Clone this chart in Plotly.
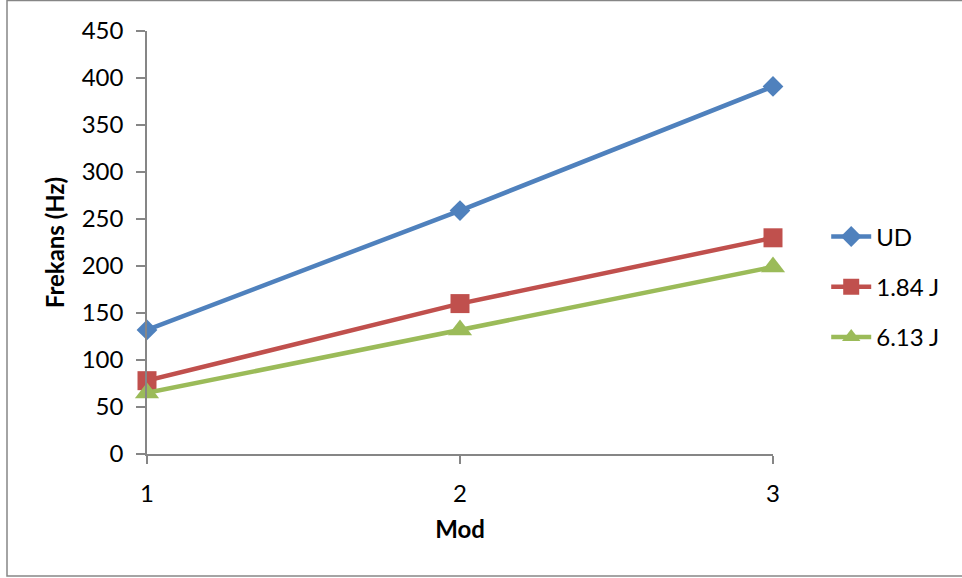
import plotly.graph_objects as go

# Mode numbers on the x axis and measured frequencies per condition
modes = [1, 2, 3]
series_names = ["UD", "1.84 J", "6.13 J"]
freq_ud = [132, 259, 391]
freq_184 = [78, 160, 230]
freq_613 = [65, 132, 199]
y_ticks = [0, 50, 100, 150, 200, 250, 300, 350, 400, 450]

colors = ["#4F81BD", "#C0504D", "#9BBB59"]
symbols = ["diamond", "square", "triangle-up"]
sizes = [16, 19, 21]
font_family = "Lato, 'Open Sans', sans-serif"
axis_gray = "#868686"
fs = 24

fig = go.Figure()
for name, vals, col, sym, sz in zip(series_names, [freq_ud, freq_184, freq_613], colors, symbols, sizes):
    fig.add_trace(go.Scatter(
        x=modes, y=vals, name=name, mode="lines+markers",
        line=dict(color=col, width=4.5),
        marker=dict(symbol=sym, size=sz, color=col, line=dict(width=0)),
        legendgroup=name,
        cliponaxis=False,
    ))

fig.update_layout(
    width=962, height=578,
    margin=dict(l=147, r=189, t=31, b=124),
    paper_bgcolor="white", plot_bgcolor="white",
    font=dict(family=font_family, size=fs, color="black"),
    showlegend=True,
    legend=dict(
        x=1.085, y=0.395, xanchor="left", yanchor="middle",
        font=dict(size=fs, family=font_family),
        tracegroupgap=16, itemwidth=40,
        bgcolor="rgba(0,0,0,0)",
    ),
    shapes=[dict(
        type="rect", xref="paper", yref="paper",
        x0=(7 - 147) / 626, x1=(975 - 147) / 626,
        y0=(454 - 576) / 423, y1=(454 - 0.5) / 423,
        line=dict(color=axis_gray, width=1.5), fillcolor="rgba(0,0,0,0)",
        layer="below",
    )],
)

fig.update_xaxes(
    range=[1, 3], tickvals=modes, ticktext=[str(m) for m in modes],
    showgrid=False, zeroline=False,
    showline=True, linecolor=axis_gray, linewidth=1.5,
    ticks="outside", ticklen=8, tickcolor=axis_gray, tickwidth=1.5,
    tickfont=dict(size=fs), ticklabelstandoff=9,
    title=dict(text="<b>Mod</b>", font=dict(size=fs), standoff=16),
)
fig.update_yaxes(
    range=[0, 450], tickvals=y_ticks,
    showgrid=False, zeroline=False,
    showline=True, linecolor=axis_gray, linewidth=1.5,
    ticks="outside", ticklen=9, tickcolor=axis_gray, tickwidth=1.5,
    tickfont=dict(size=fs), ticklabelstandoff=8,
    title=dict(text="<b>Frekans (Hz)</b>", font=dict(size=fs), standoff=10),
)

fig.write_html("out.html")
